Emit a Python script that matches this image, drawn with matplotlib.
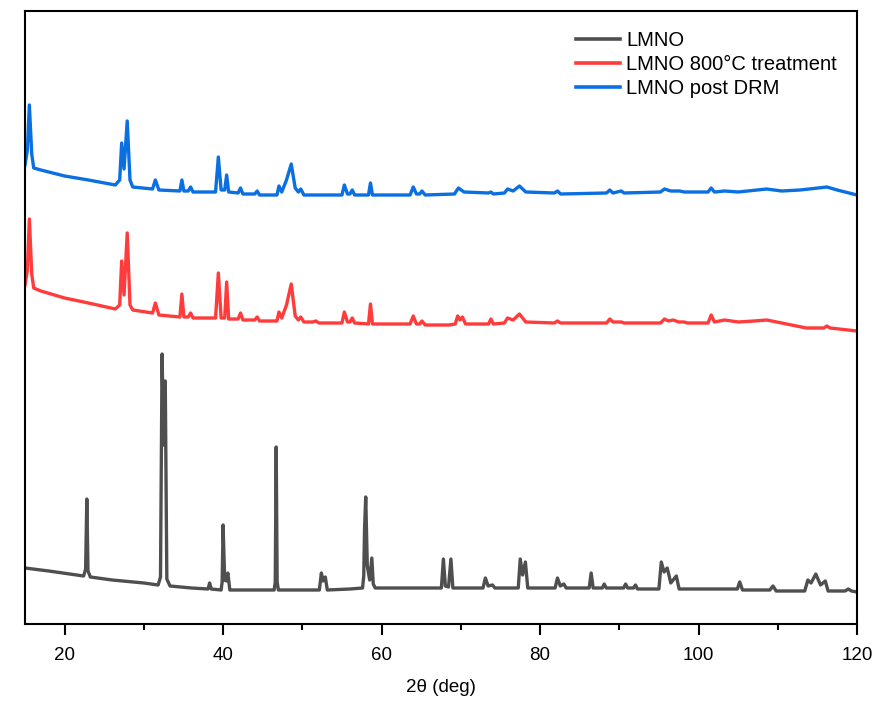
import matplotlib
matplotlib.use("Agg")
import matplotlib.pyplot as plt
from matplotlib.ticker import MultipleLocator

# ---- data (2theta in deg, intensity in arbitrary units, offsets included) ----
lmno_x = [15.0, 18, 22.4, 22.65, 22.8, 22.95, 23.25, 26, 30, 31.8, 32.1, 32.3, 32.5, 32.7, 32.9,
          33.3, 36, 38.1, 38.3, 38.5, 39.75, 39.88, 40.0, 40.2, 40.4, 40.6, 40.85, 44, 46.45, 46.58,
          46.7, 46.82, 46.98, 50, 52.15, 52.4, 52.62, 52.9, 53.15, 56, 57.6, 57.75, 57.85, 58.0,
          58.2, 58.5, 58.77, 58.95, 59.2, 62, 67.55, 67.8, 68.05, 68.45, 68.75, 69.0, 72.8, 73.1,
          73.45, 74.0, 74.3, 77.25, 77.5, 77.8, 78.15, 78.45, 81.9, 82.2, 82.55, 83.0, 83.3, 86.2,
          86.45, 86.7, 87.85, 88.1, 88.35, 90.55, 90.8, 91.05, 91.8, 92.05, 92.3, 95.0, 95.3, 95.65,
          96.05, 96.5, 97.2, 97.55, 104.9, 105.2, 105.55, 109.0, 109.4, 109.8, 113.4, 113.8, 114.2,
          114.8, 115.4, 116.0, 116.35, 118.5, 118.9, 119.3, 120]
lmno_y = [56, 53, 48, 55, 125, 53, 47, 44, 41, 39, 47, 270, 179, 243, 45, 38, 36, 35, 41, 35,
          34, 42, 99, 44, 43, 51, 34, 34, 34, 42, 177, 42, 34, 34, 34, 51, 43, 47, 34, 35, 36, 48,
          95, 127, 58, 44, 66, 40, 36, 36, 36, 65, 38, 37, 65, 36, 36, 46, 38, 39, 36, 36, 65, 49,
          62, 36, 36, 46, 38, 40, 36, 36, 51, 36, 36, 40, 36, 36, 40, 36, 36, 39, 35, 35, 62, 52,
          56, 41, 48, 35, 35, 42, 34, 34, 38, 33, 33, 44, 41, 50, 39, 43, 33, 33, 35, 33, 32]

t800_x = [15.0, 15.3, 15.55, 15.85, 16.1, 17, 20, 23, 26.4, 26.95, 27.2, 27.5, 27.9, 28.25, 28.6,
          31.1, 31.45, 31.9, 34.55, 34.8, 35.05, 35.6, 35.9, 36.2, 39.05, 39.4, 39.75, 40.2, 40.45,
          40.7, 41.9, 42.2, 42.5, 44.0, 44.3, 44.6, 46.8, 47.05, 47.4, 48.0, 48.6, 49.1, 49.5, 49.8,
          50.2, 51.3, 51.7, 52.1, 55.0, 55.3, 55.7, 56.0, 56.3, 56.6, 58.35, 58.6, 58.85, 63.6, 64.0,
          64.4, 64.8, 65.1, 65.5, 68.5, 69.3, 69.6, 69.9, 70.2, 70.6, 73.5, 73.8, 74.1, 75.5, 75.9,
          76.6, 77.4, 78.2, 81.8, 82.2, 82.6, 88.4, 88.8, 89.2, 89.9, 90.25, 90.6, 95.2, 95.7, 96.2,
          96.8, 97.5, 98.2, 98.6, 101.2, 101.6, 102.0, 103.3, 105, 107, 108.6, 110.5, 113.6, 115.8,
          116.2, 116.6, 120]
t800_y = [339, 354, 405, 350, 336, 333, 326, 321, 315, 319, 363, 329, 391, 319, 314, 311,
          321, 309, 307, 330, 307, 307, 311, 306, 306, 351, 306, 306, 342, 305, 305,
          311, 304, 304, 307, 303, 303, 312, 306, 319, 340, 308, 304, 307, 302, 302,
          303, 301, 301, 312, 302, 302, 306, 301, 300, 320, 300, 300, 308, 300, 300,
          303, 299, 299, 300, 308, 304, 307, 300, 300, 305, 300, 301, 306, 304, 310,
          302, 301, 303, 301, 301, 305, 302, 302, 302, 301, 301, 305, 303, 304, 302,
          302, 301, 301, 309, 302, 304, 302, 303, 304, 301, 296, 296, 298, 296, 293]

drm_x = [15.0, 15.3, 15.55, 15.85, 16.1, 17, 20, 23, 26.4, 26.95, 27.2, 27.5, 27.9, 28.25, 28.6,
         31.1, 31.45, 31.9, 34.55, 34.8, 35.05, 35.6, 35.9, 36.2, 39.05, 39.4, 39.75, 40.2, 40.45,
         40.7, 41.9, 42.2, 42.5, 44.0, 44.3, 44.6, 46.8, 47.05, 47.4, 48.0, 48.6, 49.1, 49.5, 49.8,
         50.2, 55.0, 55.3, 55.7, 56.0, 56.3, 56.6, 58.35, 58.6, 58.85, 63.6, 64.0, 64.4, 64.8, 65.1,
         65.5, 69.2, 69.7, 70.4, 73.5, 73.8, 74.1, 75.5, 75.9, 76.6, 77.4, 78.2, 81.8, 82.2, 82.6,
         88.4, 88.8, 89.2, 90.25, 90.6, 95.2, 95.7, 96.5, 97.6, 98.2, 101.2, 101.6, 102.0, 103.3,
         105, 108.6, 110.5, 112.8, 115.1, 116.2, 117.5, 120]
drm_y = [459, 474, 519, 470, 456, 454, 448, 444, 439, 444, 481, 455, 503, 444, 437, 435,
         444, 434, 433, 444, 433, 433, 437, 432, 432, 467, 434, 434, 449, 432, 431,
         436, 430, 430, 433, 429, 429, 438, 432, 444, 460, 436, 432, 435, 429, 429,
         439, 430, 430, 434, 429, 429, 441, 429, 429, 437, 430, 430, 433, 429, 430,
         436, 432, 431, 432, 430, 431, 435, 433, 438, 432, 431, 433, 430, 431, 434,
         431, 433, 431, 432, 435, 433, 433, 432, 432, 436, 432, 433, 432, 435,
         433, 434, 436, 437, 434, 429]

labels = ["LMNO", "LMNO 800°C treatment", "LMNO post DRM"]
colors = ["#4f4f4f", "#ff3b3b", "#0a6fe0"]
x_ticks = [20, 40, 60, 80, 100, 120]
x_label = "2θ (deg)"

# ---- figure ----
W, H = 896, 714
fig = plt.figure(figsize=(W / 100, H / 100), dpi=100)
ax = fig.add_axes([25 / W, (H - 624) / H, (857 - 25) / W, (624 - 11) / H])

for xs, ys, c, lab in zip([lmno_x, t800_x, drm_x], [lmno_y, t800_y, drm_y], colors, labels):
    ax.plot(xs, ys, color=c, lw=2.4, label=lab, solid_joinstyle="round")

ax.set_xlim(15, 120)
ax.set_ylim(0, 613)
ax.set_xticks(x_ticks)
ax.xaxis.set_minor_locator(MultipleLocator(10))
ax.set_yticks([])
ax.tick_params(axis="x", which="major", direction="out", length=8, width=1.5, pad=8.5)
ax.tick_params(axis="x", which="minor", direction="out", length=4, width=1.5)
for s in ax.spines.values():
    s.set_linewidth(1.5)

font = ["Liberation Sans", "DejaVu Sans"]
for t in ax.get_xticklabels():
    t.set_fontfamily(font)
    t.set_fontsize(13.5)
ax.set_xlabel(x_label, fontsize=13.5, family=font, labelpad=11)

leg = ax.legend(loc="upper left", bbox_to_anchor=(576 / W, (H - 31) / H),
                bbox_transform=fig.transFigure, frameon=False,
                prop={"family": font, "size": 14.5},
                handlelength=2.2, handletextpad=0.3, labelspacing=0.25, borderpad=0,
                borderaxespad=0)
for l in leg.get_lines():
    l.set_linewidth(2.6)

fig.savefig("out.png", dpi=100)
